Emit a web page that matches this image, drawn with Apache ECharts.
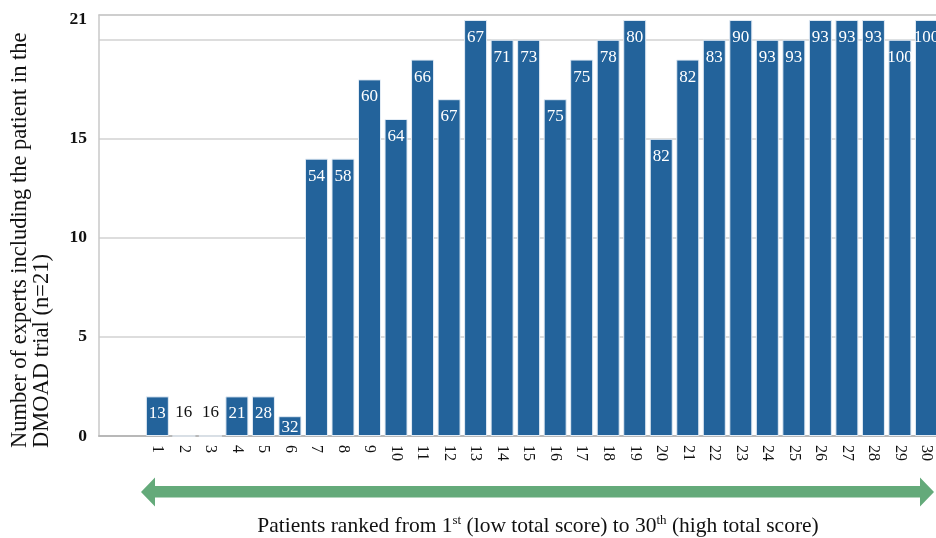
<!DOCTYPE html>
<html>
<head>
<meta charset="utf-8">
<script src="https://cdn.jsdelivr.net/npm/echarts@6/dist/echarts.min.js"></script>
<style>
html,body{margin:0;padding:0;background:#fff;}
#chart{width:936px;height:538px;}
</style>
</head>
<body>
<div id="chart"></div>
<script>
const patients = [1,2,3,4,5,6,7,8,9,10,11,12,13,14,15,16,17,18,19,20,21,22,23,24,25,26,27,28,29,30];
const experts = [2,0,0,2,2,1,14,14,18,16,19,17,21,20,20,17,19,20,21,15,19,20,21,20,20,21,21,21,20,21];
const scores = [13,16,16,21,28,32,54,58,60,64,66,67,67,71,73,75,75,78,80,82,82,83,90,93,93,93,93,93,100,100];
const yTickLabels = [0,5,10,15,21];

const SERIF = '"Liberation Serif", "DejaVu Serif", serif';
const BAR = '#23639b';
const FRAME = '#c9c9c9';

const seriesData = patients.map((p, i) => {
  const item = { value: [p, experts[i]], score: scores[i] };
  if (experts[i] === 0) {
    item.label = { position: 'top', color: '#111', distance: 14 };
  } else if (experts[i] === 1) {
    item.label = { distance: 3 };
  }
  return item;
});

const chart = echarts.init(document.getElementById('chart'), null, { renderer: 'canvas' });
chart.setOption({
  animation: false,
  backgroundColor: '#fff',
  grid: { left: 99, right: 0, top: 15, bottom: 102 },
  xAxis: [{
    type: 'value',
    min: -1.2, max: 30.36,
    splitLine: { show: false },
    axisTick: { show: false },
    axisLine: { show: true, onZero: false, lineStyle: { color: '#b8b8b8', width: 2 } },
    axisLabel: {
      customValues: patients,
      rotate: -90,
      margin: 9,
      fontFamily: SERIF,
      fontSize: 16,
      color: '#111'
    }
  }, {
    type: 'value',
    position: 'top',
    min: -1.2, max: 30.36,
    splitLine: { show: false },
    axisTick: { show: false },
    axisLabel: { show: false },
    axisLine: { show: true, onZero: false, lineStyle: { color: FRAME, width: 1.5 } }
  }],
  yAxis: {
    type: 'value',
    min: 0, max: 21.25, interval: 5,
    axisLine: { show: true, onZero: false, lineStyle: { color: FRAME, width: 1.5 } },
    axisTick: { show: false },
    splitLine: { lineStyle: { color: '#d2d2d2', width: 1.5 } },
    axisLabel: {
      customValues: yTickLabels,
      margin: 12,
      fontFamily: SERIF,
      fontSize: 17.5,
      fontWeight: 'bold',
      color: '#111'
    }
  },
  series: [{
    type: 'bar',
    data: seriesData,
    barWidth: 23,
    clip: false,
    itemStyle: { color: BAR, borderColor: '#e3ecf5', borderWidth: 1 },
    label: {
      show: true,
      position: 'insideTop',
      distance: 9,
      fontFamily: SERIF,
      fontSize: 17,
      color: '#fff',
      formatter: (p) => String(p.data.score)
    }
  }],
  graphic: [
    {
      type: 'text',
      x: 9, y: 448,
      rotation: Math.PI / 2,
      style: {
        text: 'Number of experts including the patient in the\nDMOAD trial (n=21)',
        fontFamily: SERIF,
        fontSize: 22.5,
        lineHeight: 22,
        fill: '#111',
        align: 'left',
        verticalAlign: 'top'
      }
    },
    {
      type: 'polygon',
      shape: {
        points: [[141,492],[155,477.5],[155,486],[920,486],[920,477.5],[934,492],[920,506.5],[920,497.5],[155,497.5],[155,506.5]]
      },
      style: { fill: '#64aa7a' }
    },
    {
      type: 'text',
      x: 538, y: 526,
      style: {
        text: 'Patients ranked from 1{sup|st} (low total score) to 30{sup|th} (high total score)',
        fontFamily: SERIF,
        fontSize: 21.5,
        fill: '#111',
        align: 'center',
        verticalAlign: 'middle',
        rich: {
          sup: { fontFamily: SERIF, fontSize: 13, fill: '#111', verticalAlign: 'top', lineHeight: 24 }
        }
      }
    }
  ]
});
</script>
</body>
</html>
